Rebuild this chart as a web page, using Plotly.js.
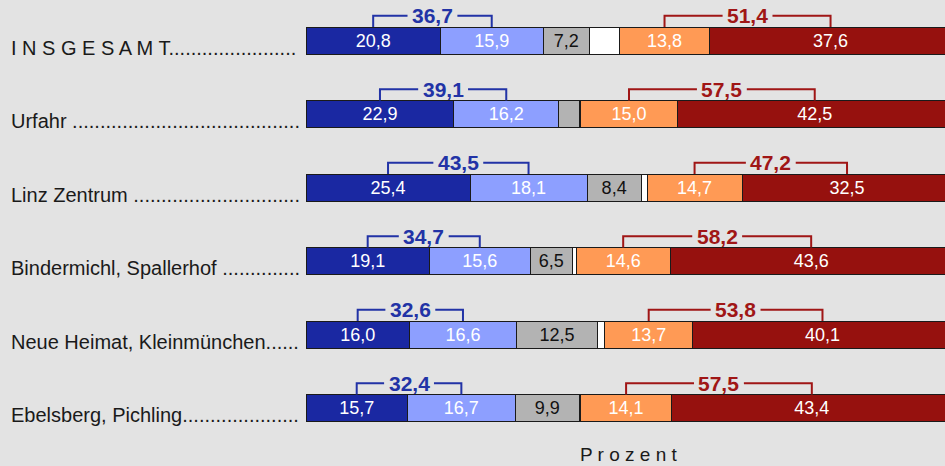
<!DOCTYPE html>
<html>
<head>
<meta charset="utf-8">
<script src="https://cdn.plot.ly/plotly-3.0.1.min.js"></script>
<style>
html,body{margin:0;padding:0;overflow:hidden;background:#e3e3e3;}
#chart{width:952px;height:466px;}
</style>
</head>
<body>
<div id="chart"></div>
<script>
// ---- data ----
const categories = ['I N S G E S A M T', 'Urfahr ', 'Linz Zentrum ', 'Bindermichl, Spallerhof ', 'Neue Heimat, Kleinmünchen', 'Ebelsberg, Pichling'];
const darkBlue  = [20.8, 22.9, 25.4, 19.1, 16.0, 15.7];
const lightBlue = [15.9, 16.2, 18.1, 15.6, 16.6, 16.7];
const gray      = [7.2, 3.3, 8.4, 6.5, 12.5, 9.9];
const white     = [4.7, 0.1, 0.9, 0.6, 1.1, 0.2];
const orange    = [13.8, 15.0, 14.7, 14.6, 13.7, 14.1];
const darkRed   = [37.6, 42.5, 32.5, 43.6, 40.1, 43.4];
const axisTitle = 'P r o z e n t';

// ---- style ----
const BG = '#e3e3e3';
const FONT = 'Liberation Sans, Arial, Helvetica, sans-serif';
const colBlueLine = '#2233a6';
const colRedLine = '#a01616';
const ypos = categories.map((c, i) => i);
const fmt = v => v.toFixed(1).replace('.', ',');

const ML = 306, FIGW = 952;
const pxPerUnit = (FIGW - ML) / 100;

function seg(name, vals, color, textColor, showLabels) {
  return {
    type: 'bar', orientation: 'h', name: name,
    x: vals, y: ypos,
    width: 0.374,
    marker: {color: color, line: {color: '#1a1a1a', width: 1}},
    text: vals.map(v => (showLabels && v >= 5) ? fmt(v) : ''),
    textposition: 'inside', insidetextanchor: 'middle',
    textangle: 0, constraintext: 'none',
    insidetextfont: {family: FONT, size: 18, color: textColor},
    hoverinfo: 'skip', showlegend: false, cliponaxis: false
  };
}

const traces = [
  seg('darkBlue', darkBlue, '#1a28a2', '#ffffff', true),
  seg('lightBlue', lightBlue, '#8d9fff', '#ffffff', true),
  seg('gray', gray, '#b3b3b3', '#111111', true),
  seg('white', white, '#ffffff', '#111111', false),
  seg('orange', orange, '#ff9a55', '#ffffff', true),
  seg('darkRed', darkRed, '#96110e', '#ffffff', true)
];

// text measurement
const cnv = document.createElement('canvas').getContext('2d');
function textW(str, font) { cnv.font = font; return cnv.measureText(str).width; }
const LABEL_FONT = '20px "Liberation Sans"';
const SUM_FONT = 'bold 21px "Liberation Sans"';
const dotW = textW('.', LABEL_FONT);
const leaderWidth = 290;

const shapes = [];
const annotations = [];
const legLow = 0.187, legTop = 0.34;

function bracket(x0, x1, y, label, color) {
  const mid = (x0 + x1) / 2;
  const half = (textW(label, SUM_FONT) / 2 + 4.5) / pxPerUnit;
  shapes.push({
    type: 'path', xref: 'x', yref: 'y',
    path: `M ${x0},${y - legLow} L ${x0},${y - legTop} L ${mid - half},${y - legTop}`,
    line: {color: color, width: 2}
  });
  shapes.push({
    type: 'path', xref: 'x', yref: 'y',
    path: `M ${mid + half},${y - legTop} L ${x1},${y - legTop} L ${x1},${y - legLow}`,
    line: {color: color, width: 2}
  });
  annotations.push({
    xref: 'x', yref: 'y', x: mid, y: y - legTop,
    xanchor: 'center', yanchor: 'middle', showarrow: false,
    text: '<b>' + label + '</b>',
    font: {family: FONT, size: 21, color: color}
  });
}

categories.forEach((cat, i) => {
  const w = textW(cat, LABEL_FONT);
  const n = Math.max(0, Math.round((leaderWidth - w) / dotW));
  annotations.push({
    xref: 'paper', yref: 'y', x: 0, y: i, xanchor: 'left', yanchor: 'middle',
    xshift: -297, yshift: -7, showarrow: false, align: 'left',
    text: cat + '.'.repeat(n),
    font: {family: FONT, size: 20, color: '#1a1a1a'}
  });

  const bx0 = darkBlue[i] / 2;
  const bx1 = darkBlue[i] + lightBlue[i] / 2;
  bracket(bx0, bx1, i, fmt(darkBlue[i] + lightBlue[i]), colBlueLine);

  const start = darkBlue[i] + lightBlue[i] + gray[i] + white[i];
  const rx0 = start + orange[i] / 2;
  const rx1 = start + orange[i] + darkRed[i] / 2;
  bracket(rx0, rx1, i, fmt(orange[i] + darkRed[i]), colRedLine);
});

annotations.push({
  xref: 'x', yref: 'paper', x: 50, y: 0, xanchor: 'center', yanchor: 'top',
  yshift: 3, showarrow: false, text: axisTitle,
  font: {family: FONT, size: 19, color: '#1a1a1a'}
});

const layout = {
  width: FIGW, height: 466,
  margin: {l: ML, r: 0, t: 4, b: 21, pad: 0},
  paper_bgcolor: BG, plot_bgcolor: BG,
  barmode: 'stack', bargap: 0,
  separators: ',.',
  xaxis: {range: [0, 100], showgrid: false, zeroline: false, showticklabels: false, ticks: '', showline: false, fixedrange: true},
  yaxis: {range: [5.5, -0.5], showgrid: false, zeroline: false, showticklabels: false, ticks: '', showline: false, fixedrange: true},
  shapes: shapes,
  annotations: annotations,
  font: {family: FONT}
};

Plotly.newPlot('chart', traces, layout, {displayModeBar: false, staticPlot: true});
</script>
</body>
</html>
